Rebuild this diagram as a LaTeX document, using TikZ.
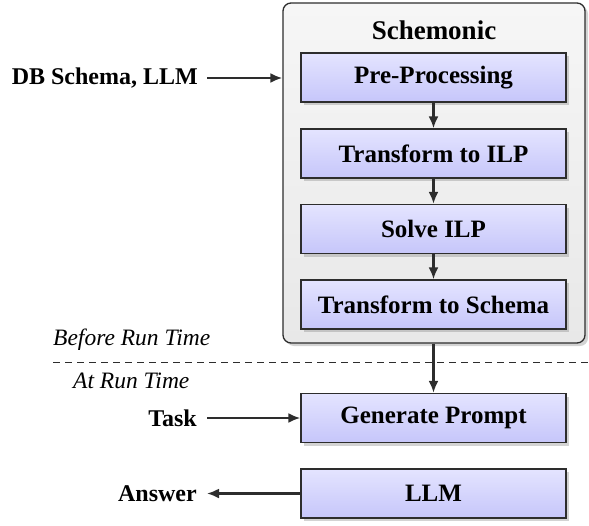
\documentclass[tikz,border=0pt]{standalone}
\usepackage{fontspec}
\setmainfont{Liberation Serif}
\usetikzlibrary{arrows.meta,shadows}
\definecolor{boxtop}{RGB}{228,228,255}
\definecolor{boxbot}{RGB}{198,198,250}
\definecolor{outtop}{RGB}{246,246,246}
\definecolor{outbot}{RGB}{232,232,232}
\definecolor{linec}{RGB}{45,45,45}
\tikzset{
  stepbox/.style={draw=linec, line width=1.3pt, top color=boxtop, bottom color=boxbot,
    minimum width=265pt, minimum height=49pt, inner sep=0pt,
    font=\fontsize{25}{29}\selectfont\bfseries,
    drop shadow={opacity=0.35, shadow xshift=3pt, shadow yshift=-3pt}},
  outerbox/.style={draw=linec, line width=1.3pt, rounded corners=8pt, top color=outtop, bottom color=outbot,
    minimum width=302pt, minimum height=340pt, inner sep=0pt,
    drop shadow={opacity=0.35, shadow xshift=3pt, shadow yshift=-3pt}},
  arr/.style={draw=linec, line width=2.2pt, -{Latex[length=12pt,width=10pt]}},
  lbl/.style={font=\fontsize{24}{28}\selectfont\bfseries, inner sep=0pt, anchor=east},
  ital/.style={font=\fontsize{23.5}{28}\selectfont\itshape, inner sep=0pt, anchor=west},
}
\begin{document}
\begin{tikzpicture}[x=1pt,y=-1pt]
\useasboundingbox (0,0) rectangle (589,525);
\node[outerbox] (outer) at (434,173) {};
\node[font=\fontsize{27}{31}\selectfont\bfseries, inner sep=0pt] (title) at (434,30) {Schemonic};
\node[stepbox] (pre) at (433.5,77.5) {Pre-Processing};
\node[stepbox] (tilp) at (433.5,153.5) {Transform to ILP};
\node[stepbox] (silp) at (433.5,229) {Solve ILP};
\node[stepbox] (tsch) at (433.5,304.5) {Transform to Schema};
\node[stepbox] (gp) at (433.5,418) {Generate Prompt};
\node[stepbox] (llm) at (433.5,493.5) {LLM};
\draw[arr] (pre) -- (tilp);
\draw[arr] (tilp) -- (silp);
\draw[arr] (silp) -- (tsch);
\draw[arr] (outer.south -| gp.north) -- (gp.north);
\node[lbl] (db) at (198,78) {DB Schema, LLM};
\node[lbl] (task) at (197,418) {Task};
\node[lbl] (ans) at (197,494) {Answer};
\draw[arr] ([xshift=9pt]db.east) -- (db.east -| outer.west);
\draw[arr] ([xshift=10pt]task.east) -- (gp.west);
\draw[arr] (llm.west) -- ([xshift=10pt]ans.east |- llm.west);
\node[ital] (before) at (53,340) {Before Run Time};
\node[ital] (at) at (73,381) {At Run Time};
\coordinate (dl) at (53,362);
\coordinate (dr) at (589,362);
\draw[draw=linec, line width=1pt, dash pattern=on 7pt off 5pt] (dl) -- (dr);
\end{tikzpicture}
\end{document}
